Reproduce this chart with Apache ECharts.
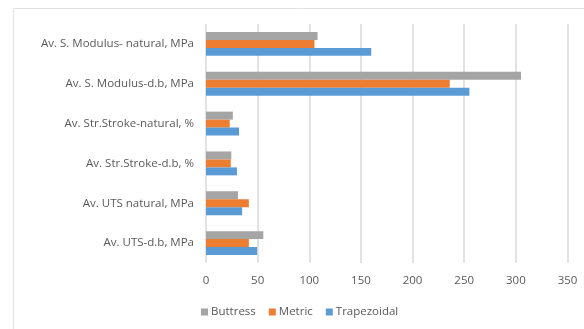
<!DOCTYPE html>
<html>
<head>
<meta charset="utf-8">
<script src="https://cdn.jsdelivr.net/npm/echarts@6/dist/echarts.min.js"></script>
<style>
  html, body { margin: 0; padding: 0; background: #fff; }
</style>
</head>
<body>
<div id="chart" style="width: 584px; height: 329px"></div>
<script>
// categories listed bottom to top (ECharts draws category y axis upwards)
const categories = [
  'Av. UTS-d.b, MPa',
  'Av. UTS natural, MPa',
  'Av. Str.Stroke-d.b, %',
  'Av. Str.Stroke-natural, %',
  'Av. S. Modulus-d.b, MPa',
  'Av. S. Modulus- natural, MPa',
]
const buttress = [55.5, 31, 24.5, 26, 305, 108]
const metric = [41.5, 41.5, 24, 23, 236, 105]
const trapezoidal = [49.5, 35, 30, 32, 255, 160]
const xTicks = [0, 50, 100, 150, 200, 250, 300, 350]

const textColor = '#595959'
const font = 'Open Sans'

const chart = echarts.init(document.getElementById('chart'))

const barSeries = (name, data, color) => ({
  name,
  type: 'bar',
  data,
  barGap: '0%',
  barCategoryGap: '40%',
  itemStyle: { color },
})

chart.setOption({
  animation: false,
  graphic: [
    {
      type: 'rect',
      shape: { x: 13.5, y: 8.5, width: 700, height: 400 },
      style: { fill: 'none', stroke: '#e2e2e2', lineWidth: 1 },
      silent: true,
    },
  ],
  grid: {
    left: 206,
    right: 16.5,
    top: 24,
    bottom: 66,
  },
  legend: {
    data: ['Buttress', 'Metric', 'Trapezoidal'],
    left: 196,
    top: 301,
    itemWidth: 7,
    itemHeight: 7,
    itemGap: 13,
    icon: 'rect',
    textStyle: { color: textColor, fontFamily: font, fontSize: 11.5, padding: [0, 0, 0, -2] },
  },
  xAxis: {
    type: 'value',
    min: xTicks[0],
    max: xTicks[xTicks.length - 1],
    interval: 50,
    axisLine: { show: false },
    axisTick: { show: false },
    axisLabel: { color: textColor, fontFamily: font, fontSize: 11.5, margin: 12 },
    splitLine: { lineStyle: { color: '#d9d9d9', width: 1.5 } },
  },
  yAxis: {
    type: 'category',
    data: categories,
    axisLine: { show: false },
    axisTick: { show: false },
    axisLabel: { color: textColor, fontFamily: font, fontSize: 11.5, margin: 12 },
  },
  series: [
    barSeries('Buttress', buttress, '#a5a5a5'),
    barSeries('Metric', metric, '#ed7d31'),
    barSeries('Trapezoidal', trapezoidal, '#5b9bd5'),
  ],
})
</script>
</body>
</html>
